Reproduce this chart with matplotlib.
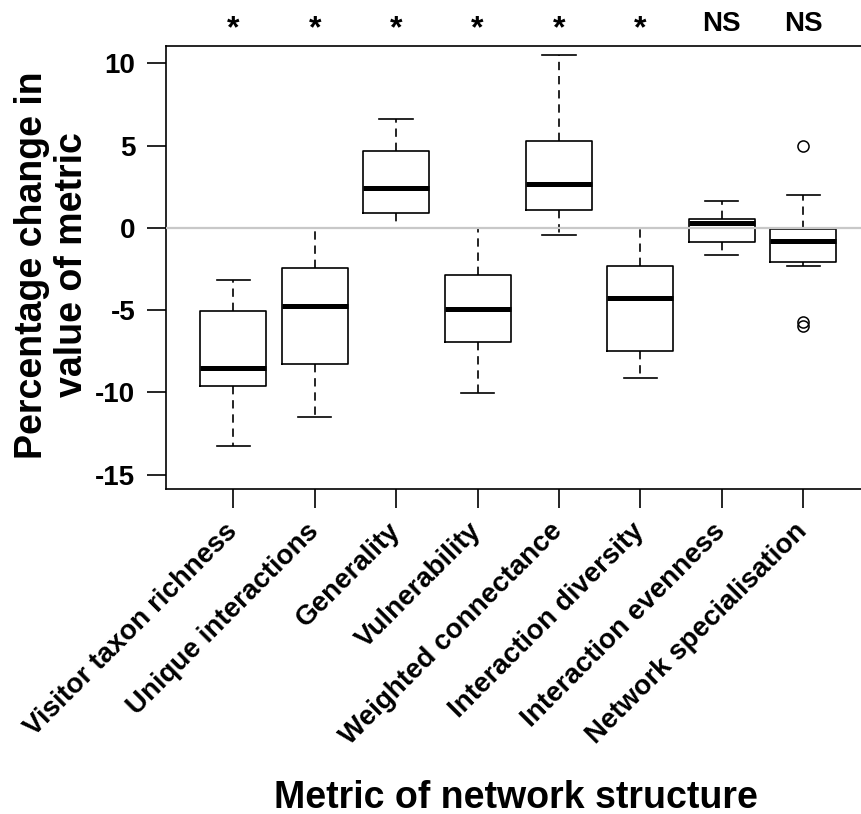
import matplotlib.pyplot as plt
from matplotlib.transforms import blended_transform_factory

plt.rcParams['font.family'] = ['Liberation Sans', 'DejaVu Sans']
plt.rcParams['font.weight'] = 'bold'
plt.rcParams['axes.labelweight'] = 'bold'
plt.rcParams['axes.unicode_minus'] = False

metrics = [
    "Visitor taxon richness",
    "Unique interactions",
    "Generality",
    "Vulnerability",
    "Weighted connectance",
    "Interaction diversity",
    "Interaction evenness",
    "Network specialisation",
]

# five-number summaries (% change) per metric
whislo = [-13.25, -11.49, 0.0, -10.03, -0.46, -9.16, -1.66, -2.33]
q1 = [-9.62, -8.29, 0.87, -6.97, 1.09, -7.50, -0.89, -2.10]
med = [-8.51, -4.74, 2.43, -4.96, 2.66, -4.29, 0.27, -0.79]
q3 = [-5.06, -2.43, 4.66, -2.88, 5.29, -2.31, 0.55, -0.06]
whishi = [-3.18, 0.0, 6.61, 0.0, 10.48, 0.0, 1.64, 1.97]
fliers = [[], [], [], [], [], [], [], [4.97, -5.73, -5.97]]

signif = ["*", "*", "*", "*", "*", "*", "NS", "NS"]

stats = []
for i, name in enumerate(metrics):
    stats.append(dict(label=name, whislo=whislo[i], q1=q1[i], med=med[i],
                      q3=q3[i], whishi=whishi[i], fliers=fliers[i]))

positions = list(range(1, len(metrics) + 1))

fig = plt.figure(figsize=(8.61, 8.14), dpi=100)
ax = fig.add_axes([166 / 861, 1 - 489 / 814, 1 - 166 / 861, 443 / 814])

ax.bxp(
    stats,
    positions=positions,
    widths=0.81,
    capwidths=0.41,
    boxprops=dict(color="black", lw=1.2),
    whiskerprops=dict(color="black", lw=1.2, linestyle=(0, (5, 3.5))),
    capprops=dict(color="black", lw=1.2),
    medianprops=dict(color="black", lw=3.6, solid_capstyle="butt"),
    flierprops=dict(marker="o", markersize=8, markerfacecolor="none",
                    markeredgecolor="black", markeredgewidth=1.1),
)

ax.axhline(0, color="#c8c8c8", lw=1.6, zorder=5)

ax.set_xlim(0.173, 8.71)
ax.set_ylim(-15.88, 11.05)
ax.set_yticks([-15, -10, -5, 0, 5, 10])
ax.set_xticks(positions)
ax.set_xticklabels(metrics, rotation=45, ha="right", va="center",
                   rotation_mode="anchor")

ax.spines["right"].set_visible(False)
for side in ["left", "bottom", "top"]:
    ax.spines[side].set_linewidth(1.2)
ax.tick_params(axis="both", length=13.5, width=1.2, labelsize=20)
ax.tick_params(axis="y", pad=8.5)
ax.tick_params(axis="x", pad=14)

ax.set_ylabel("Percentage change in\nvalue of metric", fontsize=27,
              linespacing=1.15)
ax.yaxis.set_label_coords(-0.109, 0.506)
ax.set_xlabel("Metric of network structure", fontsize=27)
ax.xaxis.set_label_coords(0.5036, -0.656)

# significance marks above each box
trans = blended_transform_factory(ax.transData, fig.transFigure)
for x, s in zip(positions, signif):
    if s == "*":
        ax.text(x, 1 - 37 / 814, s, transform=trans, ha="center",
                va="baseline", fontsize=23, clip_on=False)
    else:
        ax.text(x, 1 - 31 / 814, s, transform=trans, ha="center",
                va="baseline", fontsize=20, clip_on=False)

fig.savefig("out.png", dpi=100)
